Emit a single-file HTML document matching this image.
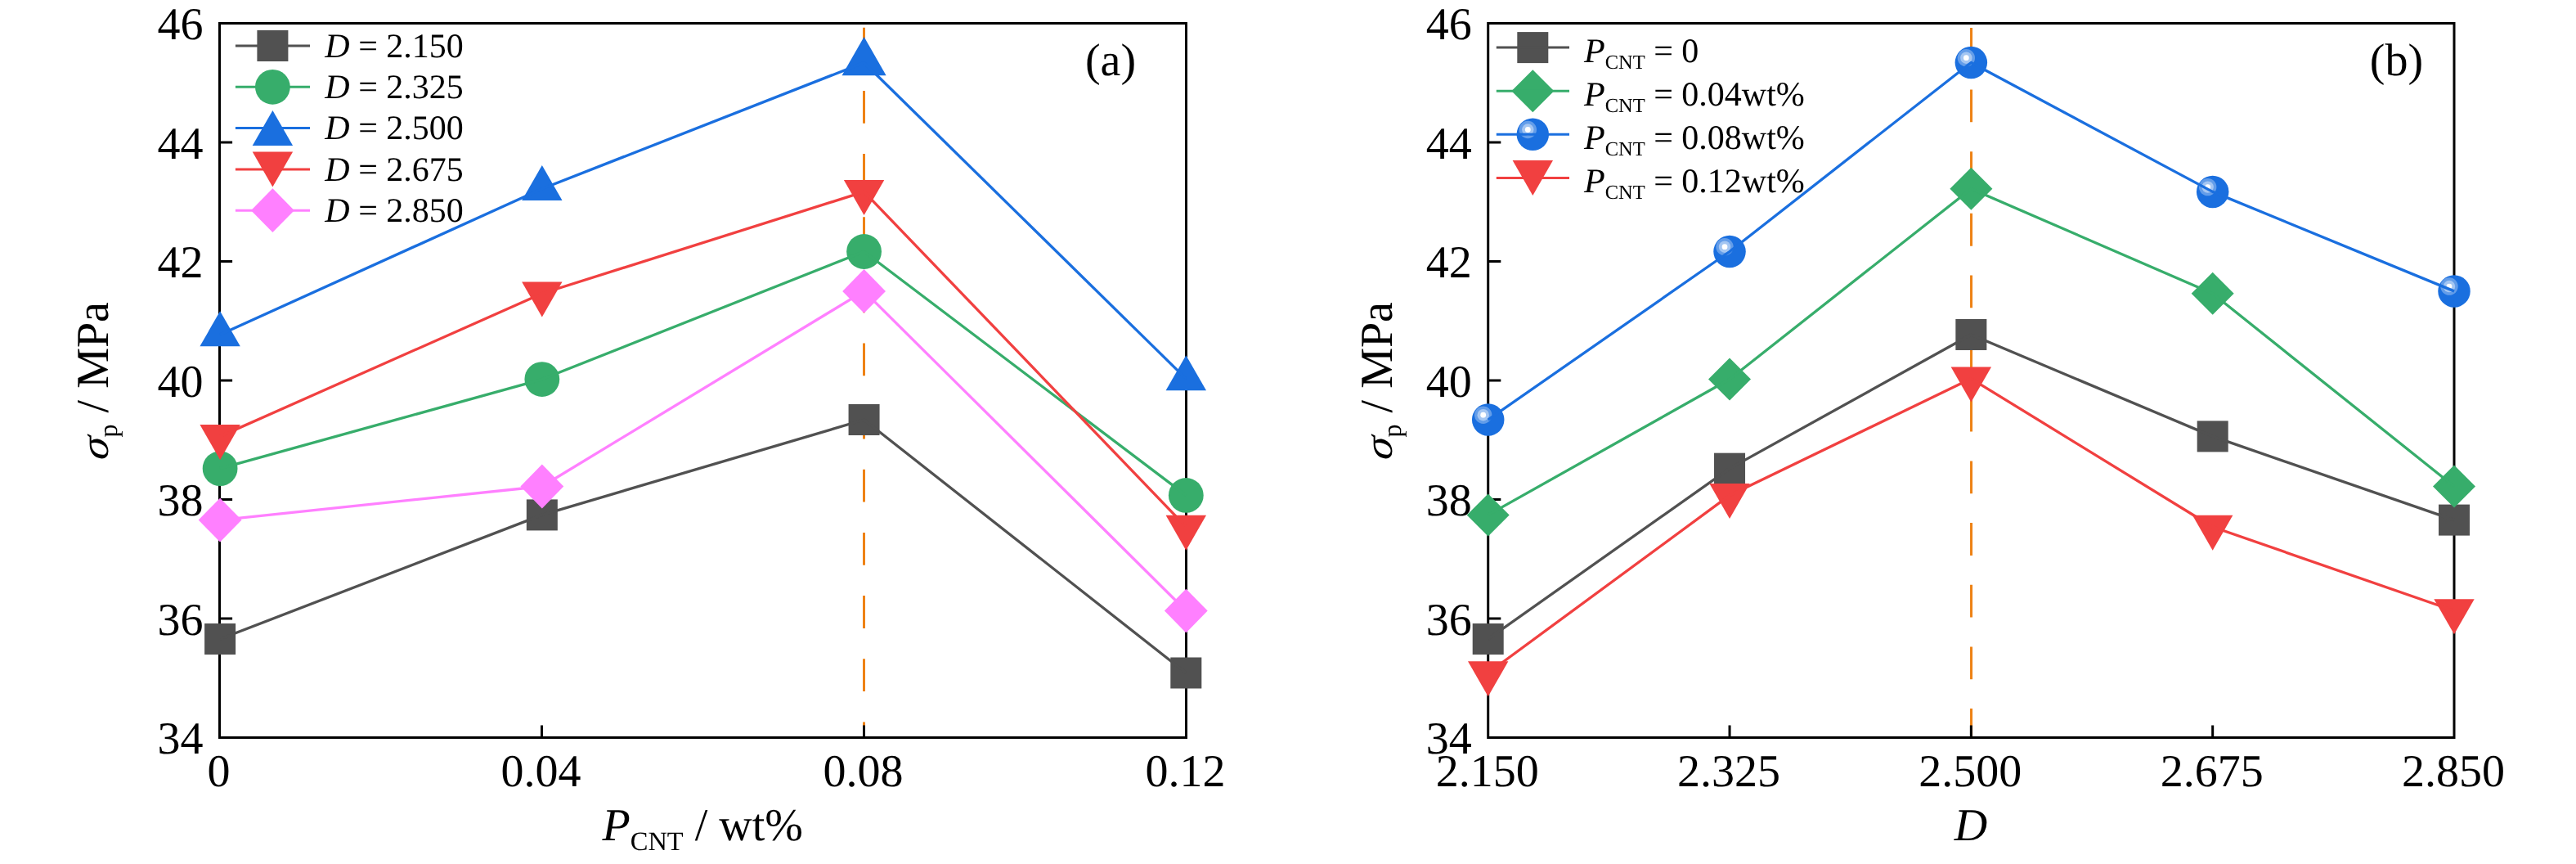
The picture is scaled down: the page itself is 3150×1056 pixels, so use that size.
<!DOCTYPE html>
<html>
<head>
<meta charset="utf-8">
<title>Peak stress vs CNT content and fractal dimension</title>
<style>
html,body{margin:0;padding:0;background:#fff;}
body{width:3150px;height:1056px;overflow:hidden;font-family:"Liberation Serif",serif;}
svg{display:block;will-change:transform;}
svg text{font-family:"Liberation Serif",serif;fill:#000;text-rendering:geometricPrecision;}
</style>
</head>
<body>
<svg width="3150" height="1056" viewBox="0 0 3150 1056">
<rect width="3150" height="1056" fill="#fff"/>
<g id="panel-a">
<path d="M1056.5 33.75V73.55M1056.5 110.9V150.7M1056.5 188.05V227.85M1056.5 265.2V305M1056.5 342.35V382.15M1056.5 419.5V459.3M1056.5 496.65V536.45M1056.5 573.8V613.6M1056.5 650.95V690.75M1056.5 728.1V767.9M1056.5 805.25V845.05M1056.5 882.4V900" stroke="#EE8215" stroke-width="3" fill="none"/>
<rect x="268.5" y="28.5" width="1182" height="873" fill="none" stroke="#000" stroke-width="3"/>
<path d="M268.5 756h15.6M268.5 610.5h15.6M268.5 465h15.6M268.5 319.5h15.6M268.5 174h15.6M662.5 901.5v-15M1056.5 901.5v-15" stroke="#000" stroke-width="3" fill="none"/>
<g font-size="56" text-anchor="end">
<text x="248.5" y="921.4">34</text>
<text x="248.5" y="775.9">36</text>
<text x="248.5" y="630.4">38</text>
<text x="248.5" y="484.9">40</text>
<text x="248.5" y="339.4">42</text>
<text x="248.5" y="193.9">44</text>
<text x="248.5" y="48.4">46</text>
</g>
<g font-size="56" text-anchor="middle">
<text x="267.5" y="960.8">0</text>
<text x="661.5" y="960.8">0.04</text>
<text x="1055.5" y="960.8">0.08</text>
<text x="1449.5" y="960.8">0.12</text>
</g>
<g>
<rect x="250.1" y="762.03" width="38" height="38" fill="#515151"/>
<rect x="643.83" y="610.41" width="38" height="38" fill="#515151"/>
<rect x="1037.57" y="494.01" width="38" height="38" fill="#515151"/>
<rect x="1431.3" y="803.49" width="38" height="38" fill="#515151"/>
<polyline points="269.1,781.03 662.83,629.41 1056.57,513.01 1450.3,822.49" fill="none" stroke="#515151" stroke-width="3.3" stroke-linejoin="round"/>
</g>
<g>
<circle cx="269.1" cy="572.67" r="21.4" fill="#37AD6B"/>
<circle cx="662.83" cy="463.54" r="21.4" fill="#37AD6B"/>
<circle cx="1056.57" cy="307.5" r="21.4" fill="#37AD6B"/>
<circle cx="1450.3" cy="605.41" r="21.4" fill="#37AD6B"/>
<polyline points="269.1,572.67 662.83,463.54 1056.57,307.5 1450.3,605.41" fill="none" stroke="#37AD6B" stroke-width="3.3" stroke-linejoin="round"/>
</g>
<g>
<polygon points="269.1,380.32 293.8,423.32 244.4,423.32" fill="#1A6FDF"/>
<polygon points="662.83,202.08 687.53,245.08 638.13,245.08" fill="#1A6FDF"/>
<polygon points="1056.57,45.12 1083.61,92.21 1029.52,92.21" fill="#1A6FDF"/>
<polygon points="1450.3,434.15 1475,477.15 1425.6,477.15" fill="#1A6FDF"/>
<polyline points="269.1,408.98 662.83,230.75 1056.57,76.51 1450.3,462.82" fill="none" stroke="#1A6FDF" stroke-width="3.3" stroke-linejoin="round"/>
</g>
<g>
<polygon points="244.4,519.05 293.8,519.05 269.1,562.05" fill="#F14040"/>
<polygon points="638.13,344.45 687.53,344.45 662.83,387.45" fill="#F14040"/>
<polygon points="1031.87,220.05 1081.27,220.05 1056.57,263.05" fill="#F14040"/>
<polygon points="1425.6,629.63 1475,629.63 1450.3,672.63" fill="#F14040"/>
<polyline points="269.1,533.38 662.83,358.78 1056.57,234.38 1450.3,643.97" fill="none" stroke="#F14040" stroke-width="3.3" stroke-linejoin="round"/>
</g>
<g>
<polygon points="269.1,608.7 295.5,635.6 269.1,662.5 242.7,635.6" fill="#FF80FF"/>
<polygon points="662.83,567.6 689.23,594.5 662.83,621.4 636.43,594.5" fill="#FF80FF"/>
<polygon points="1056.57,328.98 1082.97,355.88 1056.57,382.77 1030.17,355.88" fill="#FF80FF"/>
<polygon points="1450.3,719.64 1476.7,746.54 1450.3,773.44 1423.9,746.54" fill="#FF80FF"/>
<polyline points="269.1,635.6 662.83,594.5 1056.57,355.88 1450.3,746.54" fill="none" stroke="#FF80FF" stroke-width="3.3" stroke-linejoin="round"/>
</g>
<g font-size="42">
<path d="M287.9 56H379" stroke="#515151" stroke-width="3"/>
<rect x="314.4" y="37" width="38" height="38" fill="#515151"/>
<text x="397.3" y="69.6"><tspan font-style="italic">D</tspan> = 2.150</text>
<path d="M287.9 106.3H379" stroke="#37AD6B" stroke-width="3"/>
<circle cx="333.4" cy="106.3" r="21.4" fill="#37AD6B"/>
<text x="397.3" y="119.9"><tspan font-style="italic">D</tspan> = 2.325</text>
<path d="M287.9 156.6H379" stroke="#1A6FDF" stroke-width="3"/>
<polygon points="333.4,135.1 358.1,178.1 308.7,178.1" fill="#1A6FDF"/>
<text x="397.3" y="170.2"><tspan font-style="italic">D</tspan> = 2.500</text>
<path d="M287.9 206.9H379" stroke="#F14040" stroke-width="3"/>
<polygon points="308.7,185.4 358.1,185.4 333.4,228.4" fill="#F14040"/>
<text x="397.3" y="220.5"><tspan font-style="italic">D</tspan> = 2.675</text>
<path d="M287.9 257.2H379" stroke="#FF80FF" stroke-width="3"/>
<polygon points="333.4,230.3 359.8,257.2 333.4,284.1 307,257.2" fill="#FF80FF"/>
<text x="397.3" y="270.8"><tspan font-style="italic">D</tspan> = 2.850</text>
</g>
<text x="1358" y="91.7" font-size="56" text-anchor="middle">(a)</text>
<g transform="translate(131.5 562) rotate(-90)" font-size="56"><text transform="translate(-1.2 0) skewX(-8) scale(1.0 0.87)" font-style="italic">σ</text><text x="27.6"><tspan font-size="32" dy="11.3">p</tspan><tspan dy="-11.3"> / MPa</tspan></text></g>
<text x="736.5" y="1027" font-size="56"><tspan font-style="italic">P</tspan><tspan font-size="32.5" dy="12.2">CNT</tspan><tspan dy="-12.2"> / wt%</tspan></text>
</g>
<g id="panel-b">
<path d="M2410.55 33.9V73.7M2410.55 109.55V149.35M2410.55 185.2V225M2410.55 260.85V300.65M2410.55 336.5V376.3M2410.55 412.15V451.95M2410.55 487.8V527.6M2410.55 563.45V603.25M2410.55 639.1V678.9M2410.55 714.75V754.55M2410.55 790.4V830.2M2410.55 866.05V900" stroke="#EE8215" stroke-width="3" fill="none"/>
<rect x="1819.7" y="28.5" width="1181.3" height="873" fill="none" stroke="#000" stroke-width="3"/>
<path d="M1819.7 756h15.6M1819.7 610.5h15.6M1819.7 465h15.6M1819.7 319.5h15.6M1819.7 174h15.6M2115.03 901.5v-15M2410.35 901.5v-15M2705.68 901.5v-15" stroke="#000" stroke-width="3" fill="none"/>
<g font-size="56" text-anchor="end">
<text x="1799.7" y="921.4">34</text>
<text x="1799.7" y="775.9">36</text>
<text x="1799.7" y="630.4">38</text>
<text x="1799.7" y="484.9">40</text>
<text x="1799.7" y="339.4">42</text>
<text x="1799.7" y="193.9">44</text>
<text x="1799.7" y="48.4">46</text>
</g>
<g font-size="56" text-anchor="middle">
<text x="1818.7" y="960.8">2.150</text>
<text x="2114.03" y="960.8">2.325</text>
<text x="2409.35" y="960.8">2.500</text>
<text x="2704.68" y="960.8">2.675</text>
<text x="3000" y="960.8">2.850</text>
</g>
<g>
<rect x="1800.7" y="762.03" width="38" height="38" fill="#515151"/>
<rect x="2096.03" y="553.67" width="38" height="38" fill="#515151"/>
<rect x="2391.35" y="389.98" width="38" height="38" fill="#515151"/>
<rect x="2686.68" y="514.38" width="38" height="38" fill="#515151"/>
<rect x="2982" y="616.6" width="38" height="38" fill="#515151"/>
<polyline points="1819.7,781.03 2115.03,572.67 2410.35,408.98 2705.68,533.38 3001,635.6" fill="none" stroke="#515151" stroke-width="3.3" stroke-linejoin="round"/>
</g>
<g>
<polygon points="1819.7,603.41 1845.7,629.41 1819.7,655.41 1793.7,629.41" fill="#37AD6B"/>
<polygon points="2115.03,437.54 2141.03,463.54 2115.03,489.54 2089.03,463.54" fill="#37AD6B"/>
<polygon points="2410.35,204.75 2436.35,230.75 2410.35,256.75 2384.35,230.75" fill="#37AD6B"/>
<polygon points="2705.68,332.78 2731.68,358.78 2705.68,384.78 2679.68,358.78" fill="#37AD6B"/>
<polygon points="3001,568.5 3027,594.5 3001,620.5 2975,594.5" fill="#37AD6B"/>
<polyline points="1819.7,629.41 2115.03,463.54 2410.35,230.75 2705.68,358.78 3001,594.5" fill="none" stroke="#37AD6B" stroke-width="3.3" stroke-linejoin="round"/>
</g>
<g>
<circle cx="1819.7" cy="513.01" r="19.75" fill="#1A6FDF"/><circle cx="1813.7" cy="507.21" r="10.7" fill="#fff" fill-opacity="0.32"/><circle cx="1813.7" cy="507.21" r="7.2" fill="#fff" fill-opacity="0.42"/><circle cx="1813.7" cy="507.21" r="3.4" fill="#fff"/>
<circle cx="2115.03" cy="307.5" r="19.75" fill="#1A6FDF"/><circle cx="2109.03" cy="301.7" r="10.7" fill="#fff" fill-opacity="0.32"/><circle cx="2109.03" cy="301.7" r="7.2" fill="#fff" fill-opacity="0.42"/><circle cx="2109.03" cy="301.7" r="3.4" fill="#fff"/>
<circle cx="2410.35" cy="76.51" r="19.75" fill="#1A6FDF"/><circle cx="2404.35" cy="70.71" r="10.7" fill="#fff" fill-opacity="0.32"/><circle cx="2404.35" cy="70.71" r="7.2" fill="#fff" fill-opacity="0.42"/><circle cx="2404.35" cy="70.71" r="3.4" fill="#fff"/>
<circle cx="2705.68" cy="234.38" r="19.75" fill="#1A6FDF"/><circle cx="2699.68" cy="228.58" r="10.7" fill="#fff" fill-opacity="0.32"/><circle cx="2699.68" cy="228.58" r="7.2" fill="#fff" fill-opacity="0.42"/><circle cx="2699.68" cy="228.58" r="3.4" fill="#fff"/>
<circle cx="3001" cy="355.88" r="19.75" fill="#1A6FDF"/><circle cx="2995" cy="350.07" r="10.7" fill="#fff" fill-opacity="0.32"/><circle cx="2995" cy="350.07" r="7.2" fill="#fff" fill-opacity="0.42"/><circle cx="2995" cy="350.07" r="3.4" fill="#fff"/>
<polyline points="1819.7,513.01 2115.03,307.5 2410.35,76.51 2705.68,234.38 3001,355.88" fill="none" stroke="#1A6FDF" stroke-width="3.3" stroke-linejoin="round"/>
</g>
<g>
<polygon points="1795,808.16 1844.4,808.16 1819.7,851.16" fill="#F14040"/>
<polygon points="2090.33,591.07 2139.72,591.07 2115.03,634.07" fill="#F14040"/>
<polygon points="2385.65,448.48 2435.05,448.48 2410.35,491.48" fill="#F14040"/>
<polygon points="2680.98,629.63 2730.38,629.63 2705.68,672.63" fill="#F14040"/>
<polygon points="2976.3,732.21 3025.7,732.21 3001,775.21" fill="#F14040"/>
<polyline points="1819.7,822.49 2115.03,605.41 2410.35,462.82 2705.68,643.97 3001,746.54" fill="none" stroke="#F14040" stroke-width="3.3" stroke-linejoin="round"/>
</g>
<g font-size="42">
<rect x="1855.3" y="39.1" width="38" height="38" fill="#515151"/>
<path d="M1829.8 58.1H1919" stroke="#515151" stroke-width="3"/>
<text x="1937" y="75.7"><tspan font-style="italic">P</tspan><tspan font-size="24.5" dy="7.8">CNT</tspan><tspan dy="-7.8"> = 0</tspan></text>
<polygon points="1874.3,85.2 1900.3,111.2 1874.3,137.2 1848.3,111.2" fill="#37AD6B"/>
<path d="M1829.8 111.2H1919" stroke="#37AD6B" stroke-width="3"/>
<text x="1937" y="128.8"><tspan font-style="italic">P</tspan><tspan font-size="24.5" dy="7.8">CNT</tspan><tspan dy="-7.8"> = 0.04wt%</tspan></text>
<circle cx="1874.3" cy="164.3" r="19.75" fill="#1A6FDF"/><circle cx="1868.3" cy="158.5" r="10.7" fill="#fff" fill-opacity="0.32"/><circle cx="1868.3" cy="158.5" r="7.2" fill="#fff" fill-opacity="0.42"/><circle cx="1868.3" cy="158.5" r="3.4" fill="#fff"/>
<path d="M1829.8 164.3H1919" stroke="#1A6FDF" stroke-width="3"/>
<text x="1937" y="181.9"><tspan font-style="italic">P</tspan><tspan font-size="24.5" dy="7.8">CNT</tspan><tspan dy="-7.8"> = 0.08wt%</tspan></text>
<polygon points="1849.6,196 1899,196 1874.3,239" fill="#F14040"/>
<path d="M1829.8 217.5H1919" stroke="#F14040" stroke-width="3"/>
<text x="1937" y="235.1"><tspan font-style="italic">P</tspan><tspan font-size="24.5" dy="7.8">CNT</tspan><tspan dy="-7.8"> = 0.12wt%</tspan></text>
</g>
<text x="2930.5" y="91.7" font-size="56" text-anchor="middle">(b)</text>
<g transform="translate(1701.7 562) rotate(-90)" font-size="56"><text transform="translate(-1.2 0) skewX(-8) scale(1.0 0.87)" font-style="italic">σ</text><text x="27.6"><tspan font-size="32" dy="11.3">p</tspan><tspan dy="-11.3"> / MPa</tspan></text></g>
<text x="2410" y="1027" font-size="56" font-style="italic" text-anchor="middle">D</text>
</g>
</svg>
</body>
</html>
